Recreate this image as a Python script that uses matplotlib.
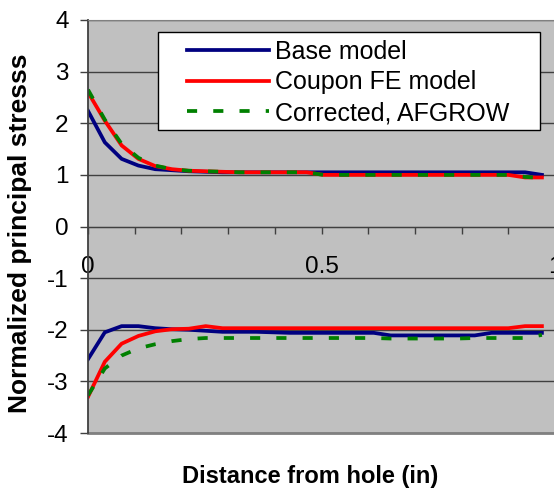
import matplotlib
matplotlib.use('Agg')
import matplotlib.pyplot as plt
from matplotlib.patches import Rectangle

plt.rcParams['font.family'] = ['Liberation Sans', 'DejaVu Sans']
plt.rcParams['axes.unicode_minus'] = False

# distancia ao furo (in)
dist = [0, 0.036, 0.072, 0.108, 0.144, 0.18, 0.216, 0.252, 0.288, 0.324,
        0.36, 0.396, 0.432, 0.468, 0.504, 0.54, 0.576, 0.612, 0.648, 0.684,
        0.72, 0.756, 0.792, 0.828, 0.864, 0.9, 0.936, 0.972]

# ramo superior (tensao principal maxima)
base_top = [2.24, 1.63, 1.31, 1.18, 1.11, 1.09, 1.07, 1.06, 1.05, 1.05,
            1.05, 1.05, 1.05, 1.05, 1.05, 1.05, 1.05, 1.05, 1.05, 1.05,
            1.05, 1.05, 1.05, 1.05, 1.05, 1.05, 1.05, 1.0]
coupon_top = [2.60, 2.05, 1.57, 1.31, 1.17, 1.11, 1.08, 1.07, 1.06, 1.05,
              1.05, 1.05, 1.05, 1.05, 1.0, 1.0, 1.0, 1.0, 1.0, 1.0,
              1.0, 1.0, 1.0, 1.0, 1.0, 1.0, 0.95, 0.95]
afgrow_top = [2.65, 2.07, 1.60, 1.33, 1.18, 1.11, 1.08, 1.07, 1.06, 1.05,
              1.05, 1.05, 1.05, 1.05, 1.0, 1.0, 1.0, 1.0, 1.0, 1.0,
              1.0, 1.0, 1.0, 1.0, 1.0, 1.0, 0.96, 0.94]

# ramo inferior (tensao principal minima)
base_bot = [-2.57, -2.05, -1.93, -1.93, -1.97, -1.99, -2.0, -2.02, -2.04, -2.04,
            -2.04, -2.05, -2.06, -2.06, -2.06, -2.06, -2.06, -2.06, -2.11, -2.11,
            -2.11, -2.11, -2.11, -2.11, -2.06, -2.06, -2.06, -2.06]
coupon_bot = [-3.30, -2.62, -2.27, -2.12, -2.03, -1.99, -1.98, -1.93, -1.97, -1.97,
              -1.97, -1.97, -1.97, -1.97, -1.97, -1.97, -1.97, -1.97, -1.97, -1.97,
              -1.97, -1.97, -1.97, -1.97, -1.97, -1.97, -1.93, -1.93]
afgrow_bot = [-3.27, -2.75, -2.50, -2.36, -2.28, -2.22, -2.18, -2.16, -2.16, -2.16,
              -2.16, -2.16, -2.16, -2.16, -2.16, -2.16, -2.16, -2.16, -2.17, -2.17,
              -2.17, -2.17, -2.17, -2.16, -2.16, -2.16, -2.16, -2.10]

y_ticks = [-4, -3, -2, -1, 0, 1, 2, 3, 4]
x_ticks = [0, 0.5, 1]
x_minor = [0.1, 0.2, 0.3, 0.4, 0.6, 0.7, 0.8, 0.9]

W, H = 554, 491
fig = plt.figure(figsize=(W / 100, H / 100), dpi=100)
ax = fig.add_axes([88 / W, 58 / H, 467 / W, 413 / H])
ax.set_facecolor('#c0c0c0')

lw = 2.7
dash = (0, (2.7, 4.3))
l1, = ax.plot(dist, base_top, color='#000080', lw=lw, label='Base model')
l2, = ax.plot(dist, coupon_top, color='#ff0000', lw=lw, label='Coupon FE model')
l3, = ax.plot(dist, afgrow_top, color='#008000', lw=lw, ls=dash,
              label='Corrected, AFGROW')
ax.plot(dist, base_bot, color='#000080', lw=lw)
ax.plot(dist, coupon_bot, color='#ff0000', lw=lw)
ax.plot(dist, afgrow_bot, color='#008000', lw=lw, ls=dash)

ax.set_xlim(0, 1)
ax.set_ylim(-4, 4)
ax.set_yticks(y_ticks)
ax.set_xticks(x_ticks)
ax.set_xticklabels(['0', '0.5', '1'])
ax.set_xticks(x_minor, minor=True)
ax.yaxis.grid(True, color='#404040', lw=1)
ax.set_axisbelow(True)

# eixo x a passar em y = 0 (estilo Excel)
ax.spines['bottom'].set_position(('data', 0))
ax.spines['bottom'].set_color('#404040')
ax.spines['left'].set_color('#404040')
ax.spines['left'].set_linewidth(1.3)
ax.spines['top'].set_color('#808080')
ax.spines['right'].set_visible(False)
ax.axhline(-4, color='#808080', lw=2, clip_on=False)

ax.tick_params(axis='y', direction='out', length=6, width=1, color='#404040',
               pad=8, labelsize=17.5)
ax.tick_params(axis='x', which='both', direction='out', length=5, width=1,
               color='#404040', pad=16, labelsize=17.5)

# caixa da legenda
fig.add_artist(Rectangle((158 / W, 1 - 130 / H), 382 / W, 98 / H,
                         transform=fig.transFigure, facecolor='white',
                         edgecolor='black', lw=1, zorder=3))
fig.legend(handles=[l1, l2, l3], loc='upper left',
           bbox_to_anchor=(187 / W, 1 - 40 / H), fontsize=18, frameon=False,
           handlelength=3.28, handletextpad=0.24, borderpad=0,
           labelspacing=0.26, borderaxespad=0).set_zorder(4)

fig.text(20 / W, 1 - 233 / H, 'Normalized principal stresss', rotation=90,
         ha='center', va='center', fontsize=19, fontweight='bold')
fig.text(310 / W, 1 - 476 / H, 'Distance from hole (in)',
         ha='center', va='center', fontsize=17, fontweight='bold')

fig.savefig('out.png', dpi=100)
